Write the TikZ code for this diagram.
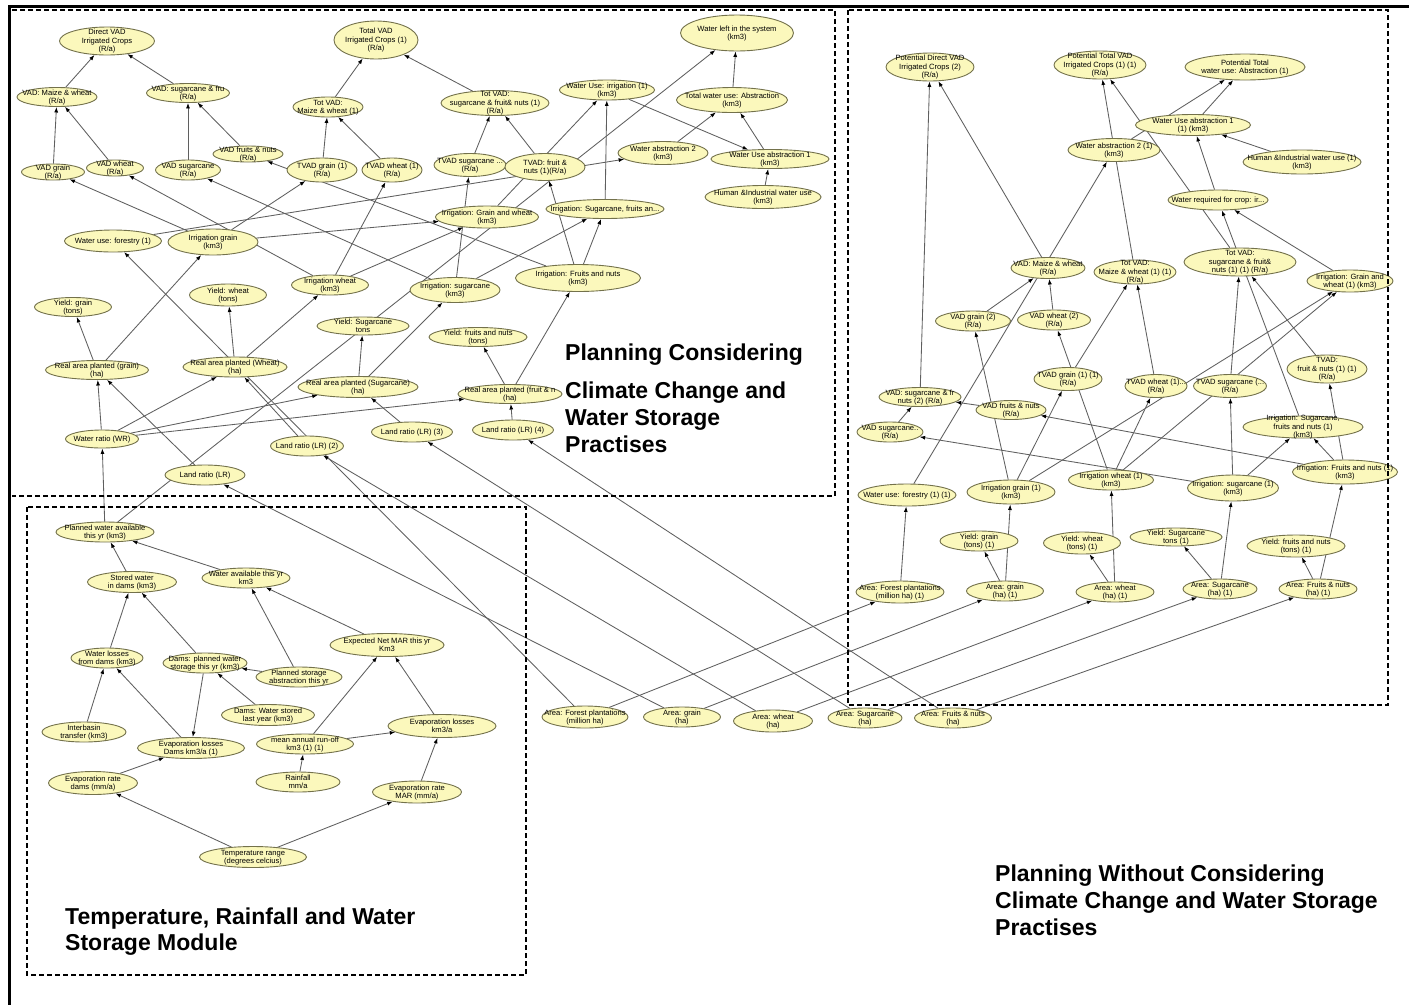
\documentclass[tikz,border=0pt]{standalone}
\usepackage{fontspec}
\setmainfont{Liberation Sans}
\usetikzlibrary{shapes.geometric,arrows.meta}
\pgfdeclarelayer{bg}
\pgfsetlayers{bg,main}
\definecolor{nfill}{RGB}{251,248,188}
\definecolor{nline}{RGB}{115,113,75}
\definecolor{econ}{RGB}{95,95,95}
\newcommand\ntext[1]{\smash{\makebox[0pt]{\raisebox{-2.6pt}{\begin{tabular}{@{}c@{}}#1\end{tabular}}}}}
\newcommand\nd[6]{\node[ell,minimum width=#4pt,minimum height=#5pt] (#1) at (#2,#3) {\ntext{#6}};}
\newcommand\cn[2]{\draw[conn] (#1) -- (#2);}
\begin{document}
\begin{tikzpicture}[x=1pt,y=-1pt,
 ell/.style={ellipse,draw=nline,fill=nfill,line width=0.9pt,inner sep=0pt,font=\fontsize{7.6}{8.5}\selectfont},
 conn/.style={draw=econ,line width=0.85pt,-{Latex[length=5.5pt,width=4pt,color=black]}},
 lbl/.style={anchor=base west,inner sep=0pt,font=\bfseries\fontsize{23}{27}\selectfont},
 frameline/.style={line width=3pt,black},
 boxline/.style={line width=1.1pt,dash pattern=on 5pt off 3pt}]
\useasboundingbox (0,0) rectangle (1409,1005);
% ---------- Box 1 ----------
\nd{dvad}{107}{41}{95}{28}{Direct VAD\\Irrigated Crops\\(R/a)}
\nd{vmw}{57}{97}{80}{19}{VAD: Maize \& wheat\\(R/a)}
\nd{vsf}{188}{93}{83}{19}{VAD: sugarcane \& fru\\(R/a)}
\nd{tvad}{376}{40}{84}{38}{Total VAD\\Irrigated Crops (1)\\(R/a)}
\nd{tmw}{328}{107}{70}{20}{Tot VAD:\\Maize \& wheat (1)}
\nd{vg}{53}{172}{63}{16}{VAD grain\\(R/a)}
\nd{vw}{115}{168}{57}{16}{VAD wheat\\(R/a)}
\nd{vs}{188}{170}{65}{20}{VAD sugarcane\\(R/a)}
\nd{vfn}{248}{154}{70}{16}{VAD fruits \& nuts\\(R/a)}
\nd{tvg}{322}{170}{70}{24}{TVAD grain (1)\\(R/a)}
\nd{tvw}{392}{170}{60}{24}{TVAD wheat (1)\\(R/a)}
\nd{wls}{737}{33}{113}{36}{Water left in the system\\(km3)}
\nd{wui}{607}{90}{95}{20}{Water Use: irrigation (1)\\(km3)}
\nd{twa}{732}{100}{111}{25}{Total water use: Abstraction\\(km3)}
\nd{tsf}{495}{103}{108}{25}{Tot VAD:\\sugarcane \& fruit\& nuts (1)\\(R/a)}
\nd{wa2}{663}{153}{90}{23}{Water abstraction 2\\(km3)}
\nd{wua1}{770}{159}{118}{19}{Water Use abstraction 1\\(km3)}
\nd{hiw}{763}{197}{116}{23}{Human \&Industrial water use\\(km3)}
\nd{tvs}{470}{165}{72}{23}{TVAD sugarcane ...\\(R/a)}
\nd{tvf}{545}{167}{80}{27}{TVAD: fruit \&\\nuts (1)(R/a)}
\nd{igw}{487}{217}{103}{22}{Irrigation: Grain and wheat\\(km3)}
\nd{isf}{605}{209}{118}{19}{Irrigation: Sugarcane, fruits an...}
\nd{wuf}{113}{241}{97}{22}{Water use: forestry (1)}
\nd{ig}{213}{242}{90}{26}{Irrigation grain\\(km3)}
\nd{iw}{330}{285}{77}{20}{Irrigation wheat\\(km3)}
\nd{is}{455}{290}{90}{25}{Irrigation: sugarcane\\(km3)}
\nd{ifn}{578}{278}{125}{27}{Irrigation: Fruits and nuts\\(km3)}
\nd{yg}{73}{307}{77}{19}{Yield: grain\\(tons)}
\nd{yw}{228}{295}{77}{22}{Yield: wheat\\(tons)}
\nd{ys}{363}{326}{92}{18}{Yield: Sugarcane\\tons}
\nd{yfn}{478}{337}{98}{19}{Yield: fruits and nuts\\(tons)}
\nd{rag}{97}{370}{103}{19}{Real area planted (grain)\\(ha)}
\nd{raw}{235}{367}{104}{20}{Real area planted (Wheat)\\(ha)}
\nd{ras}{358}{387}{120}{21}{Real area planted (Sugarcane)\\(ha)}
\nd{raf}{510}{394}{104}{19}{Real area planted (fruit \& n\\(ha)}
\nd{wr}{102}{439}{73}{18}{Water ratio (WR)}
\nd{lr2}{307}{446}{73}{20}{Land ratio (LR) (2)}
\nd{lr}{205}{475}{80}{20}{Land ratio (LR)}
\nd{lr3}{412}{432}{81}{20}{Land ratio (LR) (3)}
\nd{lr4}{513}{430}{81}{20}{Land ratio (LR) (4)}
% ---------- Box 3 ----------
\nd{pwa}{105}{532}{98}{20}{Planned water available\\this yr (km3)}
\nd{sw}{132}{582}{89}{21}{Stored water\\in dams (km3)}
\nd{wat}{246}{578}{88}{20}{Water available this yr\\km3}
\nd{wld}{107}{658}{72}{20}{Water losses\\from dams (km3)}
\nd{dpw}{205}{663}{84}{20}{Dams: planned water\\storage this yr (km3)}
\nd{psa}{299}{677}{86}{20}{Planned storage\\abstraction this yr}
\nd{dws}{268}{715}{93}{21}{Dams: Water stored\\last year (km3)}
\nd{enm}{387}{645}{114}{23}{Expected Net MAR this yr\\Km3}
\nd{ibt}{84}{732}{84}{20}{Interbasin\\transfer (km3)}
\nd{eld}{191}{748}{107}{21}{Evaporation losses\\Dams km3/a (1)}
\nd{mar}{305}{744}{97}{20}{mean annual run-off\\km3 (1) (1)}
\nd{elk}{442}{726}{108}{23}{Evaporation losses\\km3/a}
\nd{erd}{93}{783}{89}{23}{Evaporation rate\\dams (mm/a)}
\nd{rf}{298}{782}{84}{20}{Rainfall\\mm/a}
\nd{erm}{417}{792}{89}{22}{Evaporation rate\\MAR (mm/a)}
\nd{tr}{253}{857}{107}{21}{Temperature range\\(degrees celcius)}
% ---------- middle bottom ----------
\nd{afp}{585}{717}{86}{22}{Area: Forest plantations\\(million ha)}
\nd{ag}{682}{717}{77}{20}{Area: grain\\(ha)}
\nd{aw}{773}{721}{79}{22}{Area: wheat\\(ha)}
\nd{as}{865}{718}{74}{20}{Area: Sugarcane\\(ha)}
\nd{afn}{953}{718}{77}{20}{Area: Fruits \& nuts\\(ha)}
% ---------- Box 2 ----------
\nd{pdvad}{930}{67}{88}{28}{Potential Direct VAD\\Irrigated Crops (2)\\(R/a)}
\nd{ptvad}{1100}{65}{92}{28}{Potential Total VAD\\Irrigated Crops (1) (1)\\(R/a)}
\nd{ptwa}{1245}{67}{120}{26}{Potential Total\\water use: Abstraction (1)}
\nd{wuaa}{1193}{125}{115}{21}{Water Use abstraction 1\\(1) (km3)}
\nd{waa}{1114}{150}{92}{23}{Water abstraction 2 (1)\\(km3)}
\nd{hiwa}{1302}{162}{118}{24}{Human \&Industrial water use (1)\\(km3)}
\nd{wrc}{1218}{200}{100}{20}{Water required for crop: ir...}
\nd{vmwa}{1048}{268}{74}{21}{VAD: Maize \& wheat\\(R/a)}
\nd{tmwa}{1135}{272}{82}{24}{Tot VAD:\\Maize \& wheat (1) (1)\\(R/a)}
\nd{tsfa}{1240}{262}{112}{28}{Tot VAD:\\sugarcane \& fruit\&\\nuts (1) (1) (R/a)}
\nd{igwa}{1350}{281}{86}{22}{Irrigation: Grain and\\wheat (1) (km3)}
\nd{vgb}{973}{321}{75}{20}{VAD grain (2)\\(R/a)}
\nd{vwb}{1054}{320}{73}{20}{VAD wheat (2)\\(R/a)}
\nd{tvga}{1068}{379}{68}{23}{TVAD grain (1) (1)\\(R/a)}
\nd{tvwa}{1156}{386}{62}{23}{TVAD wheat (1)...\\(R/a)}
\nd{tvsa}{1230}{386}{73}{23}{TVAD sugarcane (...\\(R/a)}
\nd{tvfa}{1327}{369}{80}{28}{TVAD:\\fruit \& nuts (1) (1)\\(R/a)}
\nd{vsfb}{920}{397}{82}{19}{VAD: sugarcane \& fr\\nuts (2) (R/a)}
\nd{vfna}{1011}{410}{70}{19}{VAD fruits \& nuts\\(R/a)}
\nd{vsa}{890}{432}{66}{20}{VAD sugarcane..\\(R/a)}
\nd{isfa}{1303}{427}{120}{22}{Irrigation: Sugarcane,\\fruits and nuts (1)\\(km3)}
\nd{ifna}{1345}{472}{105}{24}{Irrigation: Fruits and nuts (1)\\(km3)}
\nd{wufa}{907}{495}{98}{22}{Water use: forestry (1) (1)}
\nd{iga}{1011}{492}{88}{24}{Irrigation grain (1)\\(km3)}
\nd{iwa}{1111}{480}{85}{20}{Irrigation wheat (1)\\(km3)}
\nd{isa}{1233}{488}{91}{26}{Irrigation: sugarcane (1)\\(km3)}
\nd{yga}{979}{541}{78}{20}{Yield: grain\\(tons) (1)}
\nd{ywa}{1082}{543}{77}{22}{Yield: wheat\\(tons) (1)}
\nd{ysa}{1176}{537}{92}{18}{Yield: Sugarcane\\tons (1)}
\nd{yfna}{1296}{546}{98}{22}{Yield: fruits and nuts\\(tons) (1)}
\nd{afpa}{900}{592}{88}{22}{Area: Forest plantations\\(million ha) (1)}
\nd{aga}{1005}{591}{77}{20}{Area: grain\\(ha) (1)}
\nd{awa}{1115}{592}{78}{20}{Area: wheat\\(ha) (1)}
\nd{asa}{1220}{589}{74}{20}{Area: Sugarcane\\(ha) (1)}
\nd{afna}{1318}{589}{78}{20}{Area: Fruits \& nuts\\(ha) (1)}
% ---------- labels ----------
\node[lbl] (la1) at (565,360) {Planning Considering};
\node[lbl] (la2) at (565,398) {Climate Change and};
\node[lbl] (la3) at (565,425) {Water Storage};
\node[lbl] (la4) at (565,452) {Practises};
\node[lbl] (lb1) at (995,881) {Planning Without Considering};
\node[lbl] (lb2) at (995,908) {Climate Change and Water Storage};
\node[lbl] (lb3) at (995,935) {Practises};
\node[lbl] (lc1) at (65,924) {Temperature, Rainfall and Water};
\node[lbl] (lc2) at (65,950) {Storage Module};
% ---------- frames ----------
\draw[boxline] (12,10) -- (835,10) -- (835,496) -- (12,496);
\draw[boxline] (848,10) rectangle (1388,705);
\draw[boxline] (27,507) rectangle (526,975);
\draw[frameline] (8,6.5) -- (1409,6.5);
\draw[frameline] (9.5,5) -- (9.5,1005);
% ---------- connectors ----------
\begin{pgfonlayer}{bg}
\fill[white] (0,0) rectangle (1409,1005);
\cn{vmw}{dvad}\cn{vsf}{dvad}\cn{vg}{vmw}\cn{vw}{vmw}\cn{vs}{vsf}\cn{vfn}{vsf}
\cn{tmw}{tvad}\cn{tsf}{tvad}\cn{tvg}{tmw}\cn{tvw}{tmw}
\cn{ifn}{vfn}\cn{is}{vs}\cn{iw}{vw}\cn{ig}{vg}\cn{ig}{tvg}\cn{iw}{tvw}
\cn{wuf}{wa2}\cn{ig}{igw}\cn{iw}{igw}\cn{is}{tvs}\cn{is}{isf}\cn{ifn}{isf}\cn{ifn}{tvf}
\cn{isf}{wui}\cn{igw}{wui}\cn{tvs}{tsf}\cn{tvf}{tsf}\cn{pwa}{wls}
\cn{wui}{wua1}\cn{wa2}{twa}\cn{wua1}{twa}\cn{twa}{wls}\cn{hiw}{wua1}
\cn{lr}{rag}\cn{lr2}{raw}\cn{lr3}{ras}\cn{lr4}{raf}
\cn{wr}{rag}\cn{wr}{raw}\cn{wr}{ras}\cn{wr}{raf}\cn{pwa}{wr}
\cn{rag}{yg}\cn{rag}{ig}\cn{raw}{yw}\cn{raw}{iw}\cn{ras}{ys}\cn{ras}{is}\cn{raf}{yfn}\cn{raf}{ifn}
\cn{afp}{wuf}\cn{afp}{afpa}\cn{ag}{lr}\cn{ag}{aga}\cn{aw}{lr2}\cn{aw}{awa}
\cn{as}{lr3}\cn{as}{asa}\cn{afn}{lr4}\cn{afn}{afna}
\cn{sw}{pwa}\cn{wat}{pwa}\cn{wld}{sw}\cn{dpw}{sw}\cn{ibt}{wld}\cn{eld}{wld}
\cn{dpw}{eld}\cn{erd}{eld}\cn{tr}{erd}\cn{dws}{dpw}\cn{psa}{dpw}\cn{psa}{wat}
\cn{enm}{wat}\cn{mar}{enm}\cn{elk}{enm}\cn{mar}{elk}\cn{rf}{mar}\cn{erm}{elk}\cn{tr}{erm}
\cn{vmwa}{pdvad}\cn{vsfb}{pdvad}\cn{tmwa}{ptvad}\cn{tsfa}{ptvad}
\cn{wuaa}{ptwa}\cn{waa}{ptwa}\cn{wrc}{wuaa}\cn{hiwa}{wuaa}\cn{isfa}{wrc}\cn{igwa}{wrc}
\cn{wufa}{waa}\cn{vgb}{vmwa}\cn{vwb}{vmwa}\cn{tvga}{tmwa}\cn{tvwa}{tmwa}
\cn{tvsa}{tsfa}\cn{tvfa}{tsfa}\cn{vsa}{vsfb}\cn{vfna}{vsfb}
\cn{iga}{vgb}\cn{iwa}{vwb}\cn{iga}{tvga}\cn{iwa}{tvwa}\cn{isa}{tvsa}\cn{ifna}{tvfa}
\cn{ifna}{isfa}\cn{isa}{isfa}\cn{ifna}{vfna}\cn{isa}{vsa}\cn{iga}{igwa}\cn{iwa}{igwa}
\cn{afpa}{wufa}\cn{aga}{iga}\cn{aga}{yga}\cn{awa}{iwa}\cn{awa}{ywa}
\cn{asa}{ysa}\cn{asa}{isa}\cn{afna}{yfna}\cn{afna}{ifna}
\end{pgfonlayer}
\end{tikzpicture}
\end{document}
